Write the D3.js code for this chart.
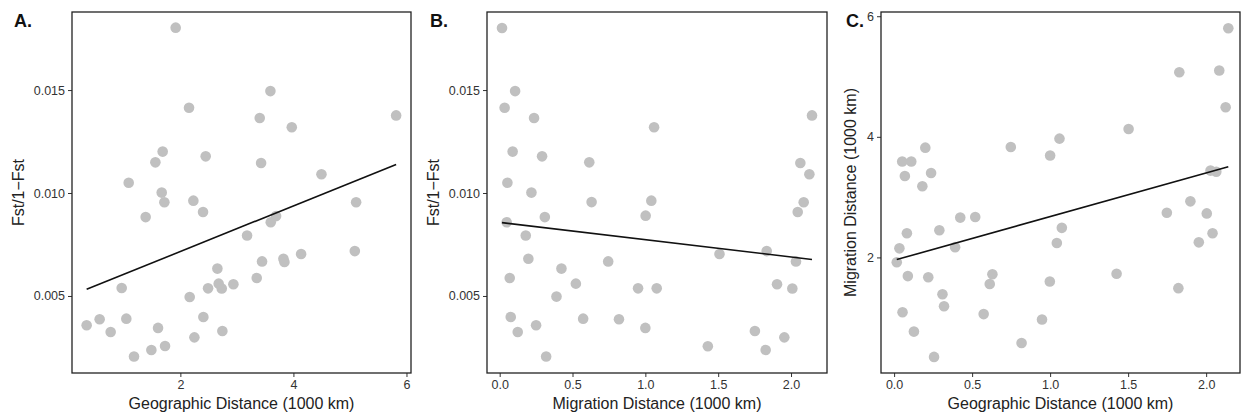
<!DOCTYPE html>
<html>
<head>
<meta charset="utf-8">
<script src="https://cdn.jsdelivr.net/npm/d3@7"></script>
<style>
  body { margin: 0; background: #fff; }
  text { font-family: "Liberation Sans", Arial, sans-serif; }
</style>
</head>
<body>
<svg id="chart" width="1242" height="417"></svg>
<script>
// panel A: geographic distance vs Fst/1-Fst
const geoA = [1.917, 3.593, 2.153, 3.404, 5.817, 3.971, 1.687, 1.558, 2.448, 3.428, 4.496, 1.086, 1.670, 1.717, 2.230,
  2.401, 5.109, 1.386, 3.693, 3.599, 3.180, 5.086, 4.136, 3.445, 3.823, 3.841, 2.655, 3.351, 2.678, 2.490,
  2.732, 2.938, 0.962, 2.165, 0.342, 0.572, 0.767, 1.044, 2.407, 1.605, 2.248, 2.743, 1.180, 1.487, 1.729];
const fstA = [0.01803, 0.01495, 0.01414, 0.01364, 0.01377, 0.01319, 0.01201, 0.01149, 0.01178, 0.01146, 0.01091, 0.01050, 0.01002, 0.00955, 0.00963,
  0.00908, 0.00955, 0.00883, 0.00888, 0.00858, 0.00794, 0.00718, 0.00704, 0.00668, 0.00681, 0.00665, 0.00633, 0.00587, 0.00560, 0.00537,
  0.00536, 0.00557, 0.00539, 0.00495, 0.00358, 0.00387, 0.00325, 0.00390, 0.00398, 0.00345, 0.00299, 0.00330, 0.00206, 0.00238, 0.00257];

// panel B: migration distance vs Fst/1-Fst
const migB = [0.016, 0.106, 0.034, 0.236, 2.144, 1.060, 0.089, 0.291, 0.615, 2.064, 2.126, 0.053, 0.218, 0.631, 1.041,
  2.087, 2.046, 1.002, 0.310, 0.048, 0.179, 1.833, 1.509, 0.197, 0.745, 2.034, 0.424, 0.069, 0.523, 0.950,
  1.078, 1.904, 2.009, 0.390, 0.076, 0.250, 0.124, 0.573, 0.819, 1.000, 1.752, 1.954, 1.429, 1.826, 0.319];
const fstB = [0.01801, 0.01495, 0.01414, 0.01364, 0.01377, 0.01319, 0.01201, 0.01178, 0.01149, 0.01146, 0.01091, 0.01050, 0.01002, 0.00956, 0.00963,
  0.00955, 0.00908, 0.00890, 0.00883, 0.00858, 0.00794, 0.00718, 0.00704, 0.00681, 0.00668, 0.00668, 0.00633, 0.00587, 0.00560, 0.00537,
  0.00537, 0.00557, 0.00536, 0.00497, 0.00398, 0.00358, 0.00325, 0.00390, 0.00387, 0.00345, 0.00330, 0.00299, 0.00256, 0.00238, 0.00206];

// panel C: x / y as labelled in the figure
const xC = [2.142, 1.828, 2.084, 2.125, 1.503, 1.060, 0.748, 0.200, 1.000, 0.052, 0.110, 0.237, 0.069, 0.181, 2.028,
  2.065, 1.899, 1.748, 2.004, 0.424, 0.520, 0.290, 1.075, 0.082, 2.041, 1.043, 1.953, 0.391, 0.034, 0.017,
  0.088, 0.219, 0.630, 0.613, 1.426, 0.998, 1.822, 0.310, 0.320, 0.054, 0.574, 0.948, 0.127, 0.817, 0.256];
const yC = [5.80, 5.07, 5.10, 4.49, 4.13, 3.97, 3.83, 3.82, 3.69, 3.59, 3.59, 3.40, 3.35, 3.18, 3.44,
  3.42, 2.93, 2.74, 2.73, 2.66, 2.67, 2.45, 2.49, 2.40, 2.40, 2.24, 2.25, 2.17, 2.15, 1.92,
  1.69, 1.67, 1.72, 1.56, 1.73, 1.60, 1.49, 1.39, 1.19, 1.09, 1.06, 0.97, 0.77, 0.58, 0.35];

const fstTicks = [0.005, 0.010, 0.015];
const geoTicks = [2, 4, 6];
const migTicks = [0.0, 0.5, 1.0, 1.5, 2.0];
const migYTicks = [2, 4, 6];

const svg = d3.select("#chart");

const panels = [
  {tag: "A.", xs: geoA, ys: fstA, left: 72, right: 411, xDom: [0.083, 6.08], yDom: [0.00126, 0.01879],
   xTicks: geoTicks, xFmt: d3.format("d"), yTicks: fstTicks, yFmt: d3.format(".3f"),
   xLab: "Geographic Distance (1000 km)", yLab: "Fst/1\u2212Fst", yLabX: 18, tagX: 14},
  {tag: "B.", xs: migB, ys: fstB, left: 487, right: 827, xDom: [-0.087, 2.247], yDom: [0.00126, 0.01879],
   xTicks: migTicks, xFmt: d3.format(".1f"), yTicks: fstTicks, yFmt: d3.format(".3f"),
   xLab: "Migration Distance (1000 km)", yLab: "Fst/1\u2212Fst", yLabX: 433, tagX: 430},
  {tag: "C.", xs: xC, ys: yC, left: 881, right: 1240, xDom: [-0.084, 2.217], yDom: [0.083, 6.07],
   xTicks: migTicks, xFmt: d3.format(".1f"), yTicks: migYTicks, yFmt: d3.format("d"),
   xLab: "Geographic Distance (1000 km)", yLab: "Migration Distance (1000 km)", yLabX: 850, tagX: 846}
];
const plotTop = 12, plotBottom = 373;

panels.forEach(p => {
  const x = d3.scaleLinear().domain(p.xDom).range([p.left, p.right]);
  const y = d3.scaleLinear().domain(p.yDom).range([plotBottom, plotTop]);
  const g = svg.append("g");

  g.append("g")
      .attr("transform", `translate(0, ${plotBottom})`)
      .call(d3.axisBottom(x).tickValues(p.xTicks).tickFormat(p.xFmt).tickSize(4).tickSizeOuter(0))
      .call(a => a.select(".domain").remove())
      .call(a => a.selectAll("line").attr("stroke", "#333"))
      .call(a => a.selectAll("text").attr("fill", "#333").style("font-size", "12.5px"));
  g.append("g")
      .attr("transform", `translate(${p.left}, 0)`)
      .call(d3.axisLeft(y).tickValues(p.yTicks).tickFormat(p.yFmt).tickSize(4).tickSizeOuter(0))
      .call(a => a.select(".domain").remove())
      .call(a => a.selectAll("line").attr("stroke", "#333"))
      .call(a => a.selectAll("text").attr("fill", "#333").style("font-size", "12.5px"));

  const pts = p.xs.map((v, i) => [v, p.ys[i]]);
  g.append("g").selectAll("circle")
      .data(pts)
      .enter().append("circle")
      .attr("cx", d => x(d[0]))
      .attr("cy", d => y(d[1]))
      .attr("r", 5.3)
      .attr("fill", "#c0c0c0");

  // least-squares fit
  const mx = d3.mean(p.xs), my = d3.mean(p.ys);
  const slope = d3.sum(pts, d => (d[0] - mx) * (d[1] - my)) / d3.sum(pts, d => (d[0] - mx) ** 2);
  const icpt = my - slope * mx;
  const ext = d3.extent(p.xs);
  g.append("path")
      .datum(ext.map(v => [v, icpt + slope * v]))
      .attr("d", d3.line().x(d => x(d[0])).y(d => y(d[1])))
      .attr("stroke", "#111")
      .attr("stroke-width", 1.6)
      .attr("fill", "none");

  g.append("rect")
      .attr("x", p.left).attr("y", plotTop)
      .attr("width", p.right - p.left).attr("height", plotBottom - plotTop)
      .attr("fill", "none").attr("stroke", "#222").attr("stroke-width", 1.3);

  g.append("text")
      .text(p.xLab)
      .attr("x", (p.left + p.right) / 2)
      .attr("y", 409)
      .attr("text-anchor", "middle")
      .attr("fill", "#222")
      .style("font-size", "16px");
  g.append("text")
      .text(p.yLab)
      .attr("transform", `translate(${p.yLabX}, ${(plotTop + plotBottom) / 2}) rotate(-90)`)
      .attr("dy", "0.35em")
      .attr("text-anchor", "middle")
      .attr("fill", "#222")
      .style("font-size", "16px");
  g.append("text")
      .text(p.tag)
      .attr("x", p.tagX)
      .attr("y", 27)
      .attr("fill", "#111")
      .style("font-size", "18px")
      .style("font-weight", "bold");
});
</script>
</body>
</html>
